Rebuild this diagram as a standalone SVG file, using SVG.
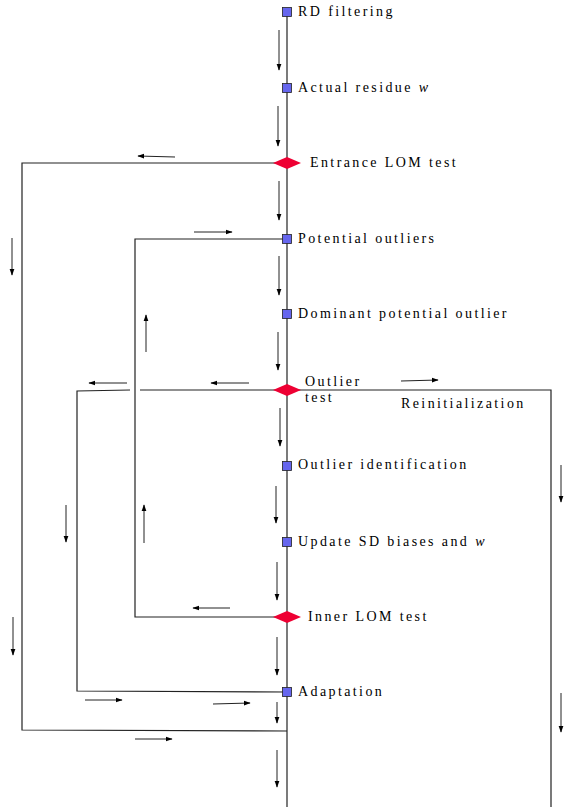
<svg xmlns="http://www.w3.org/2000/svg" width="567" height="807" viewBox="0 0 567 807">
<defs>
<marker id="ah" viewBox="0 0 10 10" refX="9" refY="5" markerWidth="7" markerHeight="7" markerUnits="userSpaceOnUse" orient="auto">
<path d="M0,1.5 L10,5 L0,8.5 Z" fill="#000"/>
</marker>
</defs>
<style>
.ln{stroke:#222;stroke-width:1.2;fill:none}
.ar{stroke:#222;stroke-width:1;fill:none;marker-end:url(#ah)}
.sq{fill:#6666ee;stroke:#222;stroke-width:0.8}
.dm{fill:#ee0033;stroke:none}
.t{font-family:"Liberation Serif",serif;font-size:14px;letter-spacing:2.4px;fill:#000}
.i{font-style:italic}
</style>
<g id="connectors">
<line class="ln" x1="287" y1="12" x2="287" y2="807"/>
<polyline class="ln" points="287,163 22,163 22,730 287,731"/>
<polyline class="ln" points="287,239 135,239 135,617 287,617"/>
<line class="ln" x1="140" y1="390" x2="287" y2="390"/>
<polyline class="ln" points="130,390 77,391 77,691 287,692"/>
<polyline class="ln" points="287,390 551,390 551,807"/>
<line class="ar" x1="279" y1="30" x2="279" y2="70"/>
<line class="ar" x1="278" y1="106" x2="278" y2="146"/>
<line class="ar" x1="279" y1="181" x2="279" y2="220"/>
<line class="ar" x1="279" y1="256" x2="279" y2="295"/>
<line class="ar" x1="278" y1="332" x2="278" y2="370"/>
<line class="ar" x1="280" y1="408" x2="280" y2="446"/>
<line class="ar" x1="276" y1="486" x2="276" y2="523"/>
<line class="ar" x1="277" y1="562" x2="277" y2="600"/>
<line class="ar" x1="277" y1="637" x2="277" y2="675"/>
<line class="ar" x1="277" y1="702" x2="277" y2="723"/>
<line class="ar" x1="277" y1="750" x2="277" y2="787"/>
<line class="ar" x1="175" y1="157" x2="138" y2="156"/>
<line class="ar" x1="194" y1="232" x2="232" y2="232"/>
<line class="ar" x1="12" y1="238" x2="12" y2="275"/>
<line class="ar" x1="146" y1="352" x2="146" y2="315"/>
<line class="ar" x1="144" y1="543" x2="144" y2="505"/>
<line class="ar" x1="127" y1="383" x2="89" y2="383"/>
<line class="ar" x1="249" y1="383" x2="211" y2="383"/>
<line class="ar" x1="401" y1="381" x2="438" y2="380"/>
<line class="ar" x1="66" y1="505" x2="66" y2="542"/>
<line class="ar" x1="13" y1="617" x2="13" y2="655"/>
<line class="ar" x1="230" y1="608" x2="193" y2="608"/>
<line class="ar" x1="85" y1="700" x2="122" y2="700"/>
<line class="ar" x1="213" y1="704" x2="250" y2="703"/>
<line class="ar" x1="135" y1="739" x2="172" y2="739"/>
<line class="ar" x1="561" y1="465" x2="561" y2="502"/>
<line class="ar" x1="561" y1="693" x2="561" y2="732"/>
</g>
<g id="rd-filtering">
<rect class="sq" x="282.5" y="7.5" width="9" height="9"/>
<text class="t" x="298" y="16">RD filtering</text>
</g>
<g id="actual-residue">
<rect class="sq" x="282.5" y="83.5" width="9" height="9"/>
<text class="t" x="298" y="92">Actual residue <tspan class="i">w</tspan></text>
</g>
<g id="entrance-lom">
<polygon class="dm" points="273,163 287,157 301,163 287,169"/>
<text class="t" x="310" y="167">Entrance LOM test</text>
</g>
<g id="potential-outliers">
<rect class="sq" x="282.5" y="234.5" width="9" height="9"/>
<text class="t" x="298" y="243">Potential outliers</text>
</g>
<g id="dominant">
<rect class="sq" x="282.5" y="309.5" width="9" height="9"/>
<text class="t" x="298" y="318">Dominant potential outlier</text>
</g>
<g id="outlier-test">
<polygon class="dm" points="273,390 287,384 301,390 287,396"/>
<text class="t" x="305" y="386">Outlier</text>
<text class="t" x="305" y="402">test</text>
</g>
<g id="reinit">
<text class="t" x="401" y="408">Reinitialization</text>
</g>
<g id="outlier-identification">
<rect class="sq" x="282.5" y="461.5" width="9" height="9"/>
<text class="t" x="298" y="469">Outlier identification</text>
</g>
<g id="update-sd">
<rect class="sq" x="282.5" y="537.5" width="9" height="9"/>
<text class="t" x="298" y="546">Update SD biases and <tspan class="i">w</tspan></text>
</g>
<g id="inner-lom">
<polygon class="dm" points="273,617 287,611 301,617 287,623"/>
<text class="t" x="308" y="621">Inner LOM test</text>
</g>
<g id="adaptation">
<rect class="sq" x="282.5" y="687.5" width="9" height="9"/>
<text class="t" x="298" y="696">Adaptation</text>
</g>
</svg>
